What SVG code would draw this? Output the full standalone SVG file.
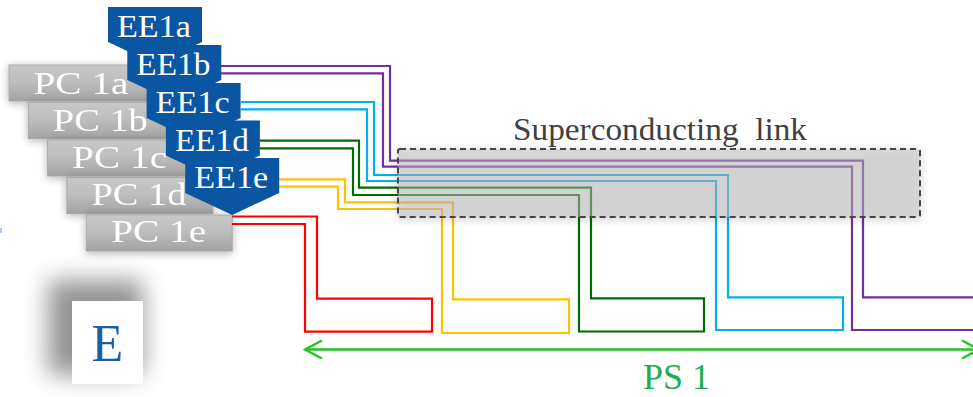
<svg xmlns="http://www.w3.org/2000/svg" width="973" height="397" viewBox="0 0 973 397">
  <defs>
    <linearGradient id="pcFill" x1="0" y1="0" x2="0" y2="1">
      <stop offset="0" stop-color="#c8c8c8"/>
      <stop offset="0.45" stop-color="#bebebe"/>
      <stop offset="1" stop-color="#a2a2a2"/>
    </linearGradient>
    <filter id="softShadow" x="-20%" y="-40%" width="140%" height="180%">
      <feGaussianBlur in="SourceAlpha" stdDeviation="4"/>
      <feOffset dx="0" dy="2" result="b"/>
      <feComponentTransfer><feFuncA type="linear" slope="0.3"/></feComponentTransfer>
      <feMerge><feMergeNode/><feMergeNode in="SourceGraphic"/></feMerge>
    </filter>
    <filter id="bigBlur" x="-60%" y="-60%" width="220%" height="220%">
      <feGaussianBlur stdDeviation="12"/>
    </filter>
    <marker id="openHead" viewBox="0 0 20 20" refX="18" refY="10" markerWidth="20" markerHeight="20" markerUnits="userSpaceOnUse" orient="auto-start-reverse">
      <path d="M1 1 L18 10 L1 19" fill="none" stroke="#22c322" stroke-width="2.4"/>
    </marker>
    <style>
      .pc rect { fill: url(#pcFill); stroke: #a9a9a9; stroke-width: 1; }
      .pc text { font-family: "Liberation Serif", "Times New Roman", serif; font-size: 32px; fill: #ffffff; text-anchor: middle; }
      .ee path { fill: #0b56a2; }
      .ee text { font-family: "Liberation Serif", "Times New Roman", serif; font-size: 32px; fill: #ffffff; text-anchor: middle; }
      .wire { fill: none; stroke-width: 2.2; stroke-linejoin: miter; }
      .purple { stroke: #7030a0; }
      .cyan { stroke: #00b0f0; }
      .green { stroke: #006b00; }
      .yellow { stroke: #ffc000; }
      .red { stroke: #ff0000; }
      .label { font-family: "Liberation Serif", "Times New Roman", serif; }
    </style>
  </defs>

  <rect width="973" height="397" fill="#ffffff"/>

  <!-- small clipped mark at the left border -->
  <rect x="0" y="228" width="2" height="5" fill="#a9c9ea"/>

  <!-- power converters -->
  <g id="pc1a" class="pc" filter="url(#softShadow)"><rect x="9" y="65" width="146" height="36"/><text x="81" y="94" textLength="95" lengthAdjust="spacingAndGlyphs">PC 1a</text></g>
  <g id="pc1b" class="pc" filter="url(#softShadow)"><rect x="28.3" y="102.5" width="146" height="36"/><text x="100.3" y="131" textLength="95" lengthAdjust="spacingAndGlyphs">PC 1b</text></g>
  <g id="pc1c" class="pc" filter="url(#softShadow)"><rect x="47.6" y="140" width="146" height="36"/><text x="119.6" y="168" textLength="95" lengthAdjust="spacingAndGlyphs">PC 1c</text></g>
  <g id="pc1d" class="pc" filter="url(#softShadow)"><rect x="66.9" y="177.5" width="146" height="36"/><text x="138.9" y="205" textLength="95" lengthAdjust="spacingAndGlyphs">PC 1d</text></g>
  <g id="pc1e" class="pc" filter="url(#softShadow)"><rect x="86.2" y="215" width="146" height="36"/><text x="158.7" y="242" textLength="95" lengthAdjust="spacingAndGlyphs">PC 1e</text></g>

  <!-- cable pairs -->
  <g id="connectors">
    <path class="wire purple" d="M221 66 H390 V160.7 H863 V297.3 H980"/>
    <path class="wire purple" d="M221 73.3 H383 V166.7 H852 V330 H980"/>
    <path class="wire cyan" d="M241 102 H374 V175 H728 V297.3 H843 V330 H716 V181 H367 V109.3 H241"/>
    <path class="wire green" d="M260 140.7 H359 V187.7 H591 V298.3 H704 V331.5 H579 V195 H353 V148.3 H260"/>
    <path class="wire yellow" d="M279 179.3 H345 V202.3 H453 V299.3 H569 V333 H442 V209 H338 V186.7 H279"/>
    <path class="wire red" d="M232 216.5 H317 V298.7 H432 V331.7 H305 V224 H232"/>
  </g>

  <!-- energy extraction units -->
  <g id="ee1a" class="ee"><path d="M108 7 H202 V42 L155 64 L108 42 Z"/><text x="154" y="37" textLength="74" lengthAdjust="spacingAndGlyphs">EE1a</text></g>
  <g id="ee1b" class="ee"><path d="M127.3 45 H221.3 V80 L174.3 102 L127.3 80 Z"/><text x="173.3" y="75" textLength="74" lengthAdjust="spacingAndGlyphs">EE1b</text></g>
  <g id="ee1c" class="ee"><path d="M146.6 83 H240.6 V118 L193.6 140 L146.6 118 Z"/><text x="192.6" y="113" textLength="74" lengthAdjust="spacingAndGlyphs">EE1c</text></g>
  <g id="ee1d" class="ee"><path d="M165.9 120.5 H259.9 V155.5 L212.9 177.5 L165.9 155.5 Z"/><text x="211.9" y="150.5" textLength="74" lengthAdjust="spacingAndGlyphs">EE1d</text></g>
  <g id="ee1e" class="ee"><path d="M185.2 158 H279.2 V193 L232.2 215 L185.2 193 Z"/><text x="231.2" y="188" textLength="74" lengthAdjust="spacingAndGlyphs">EE1e</text></g>

  <!-- superconducting link enclosure -->
  <g id="link">
    <rect x="398" y="149" width="522" height="68" rx="2" fill="#bababa" fill-opacity="0.48" stroke="#444444" stroke-width="2" stroke-dasharray="6 4" filter="url(#softShadow)"/>
    <text class="label" x="513" y="140" font-size="32" fill="#404040" textLength="294" lengthAdjust="spacingAndGlyphs" xml:space="preserve">Superconducting  link</text>
  </g>

  <!-- powering span -->
  <g id="ps1">
    <line x1="305" y1="349.5" x2="979" y2="349.5" stroke="#22c322" stroke-width="2.4" marker-start="url(#openHead)" marker-end="url(#openHead)"/>
    <text class="label" x="643" y="389" font-size="35" fill="#1cb04c" textLength="67" lengthAdjust="spacingAndGlyphs">PS 1</text>
  </g>

  <!-- E tile -->
  <g id="e-tile">
    <rect x="48" y="280" width="95" height="95" fill="#000000" opacity="0.42" filter="url(#bigBlur)"/>
    <rect x="72" y="301" width="71" height="83" fill="#ffffff"/>
    <text class="label" x="107.5" y="361" font-size="52" fill="#1a5ea8" text-anchor="middle">E</text>
  </g>
</svg>
